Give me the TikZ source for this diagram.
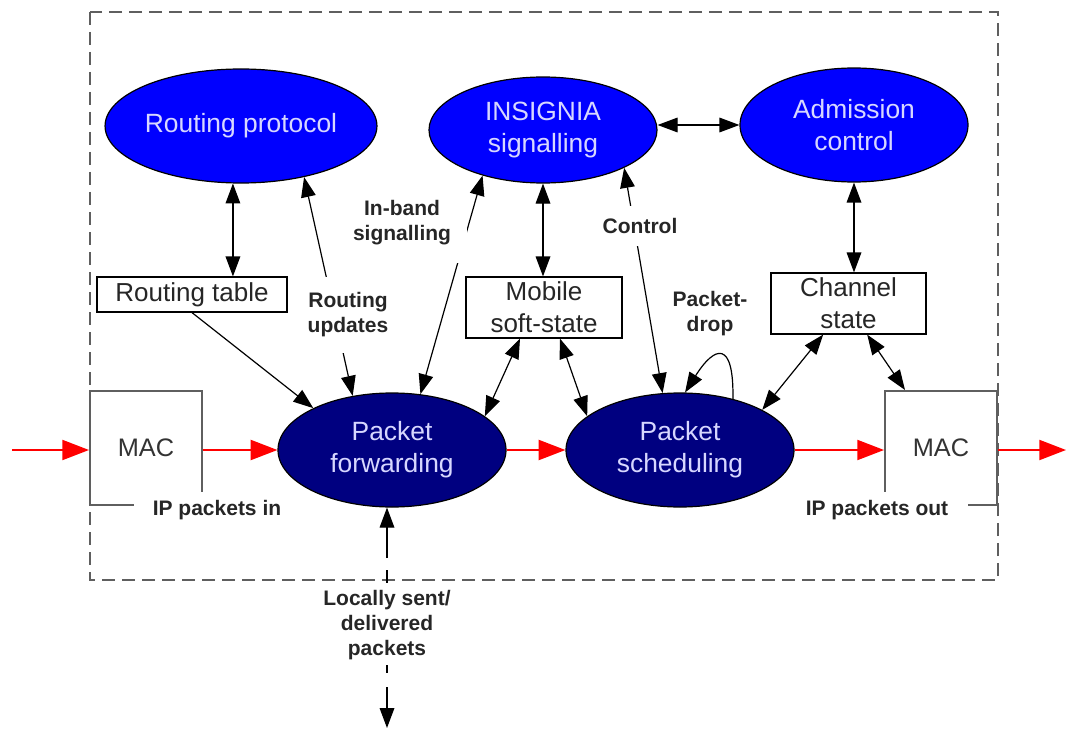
\documentclass[tikz,border=0pt]{standalone}
\usepackage{fontspec}
\setmainfont{Liberation Sans}
\usetikzlibrary{arrows.meta,shapes.geometric}
\definecolor{topblue}{RGB}{0,0,255}
\definecolor{deepnavy}{RGB}{0,0,128}
\definecolor{paletext}{RGB}{215,215,255}
\definecolor{framegray}{RGB}{95,95,95}
\definecolor{flowred}{RGB}{255,0,0}

\begin{document}
\begin{tikzpicture}[x=0.75pt,y=-0.75pt,
  ellbase/.style={ellipse, draw=black, line width=0.9pt, inner sep=0pt,
    minimum width=171pt, minimum height=85.5pt, align=center,
    text=paletext, font=\fontsize{19.8}{24}\selectfont},
  upper/.style={ellbase, fill=topblue},
  lower/.style={ellbase, fill=deepnavy},
  statebox/.style={draw=black, line width=0.9pt, fill=white, inner sep=0pt,
    align=center, text=black!85, font=\fontsize{19.5}{24}\selectfont},
  macbox/.style={draw=framegray, line width=1.5pt, inner sep=0pt,
    minimum width=84pt, minimum height=85.5pt, text=black!80,
    font=\fontsize{19}{23}\selectfont},
  tag/.style={font=\bfseries\fontsize{15.75}{18.75}\selectfont, align=center,
    inner sep=0pt, text=black!85},
  cover/.style={tag, fill=white},
  conn/.style={line width=0.9pt, black},
  tip/.style={-{Triangle[length=15pt,width=11pt]}},
  both/.style={{Triangle[length=15pt,width=11pt]}-{Triangle[length=15pt,width=11pt]}},
  flow/.style={line width=1.5pt, flowred, -{Triangle[length=20pt,width=15pt]}},
]
\useasboundingbox (0,0) rectangle (1067,731);

% node boundary
\draw[framegray, line width=1.8pt, dash pattern=on 10pt off 5pt] (90,12) rectangle (998,580);

% functional blocks
\node[upper] (RP) at (241,126) {Routing protocol};
\node[upper, minimum height=79.5pt] (INS) at (543,130) {INSIGNIA\\signalling};
\node[upper] (AC) at (854,125) {Admission\\control};
\node[lower] (PF) at (392,450) {Packet\\forwarding};
\node[lower] (PS) at (680,450) {Packet\\scheduling};

% state tables
\node[statebox, minimum width=142.5pt, minimum height=26.25pt] (RT) at (192,294.5) {Routing table};
\node[statebox, minimum width=117pt, minimum height=45.75pt] (MSS) at (544,307.5) {Mobile\\soft-state};
\node[statebox, minimum width=116.25pt, minimum height=45.75pt] (CS) at (848.5,303.5) {Channel\\state};

% link layer
\node[macbox] (MACL) at (146,448) {MAC};
\node[macbox] (MACR) at (941,448) {MAC};

% packet flow
\coordinate (inL) at (12,450);
\coordinate (outR) at (1066,450);
\draw[flow] (inL) -- (inL -| MACL.west);
\draw[flow] (MACL.east |- PF.west) -- (PF.west);
\draw[flow] (PF.east) -- (PS.west);
\draw[flow] (PS.east) -- (PS.east -| MACR.west);
\draw[flow] (PS.east -| MACR.east) -- (outR);

% control interactions
\draw[conn,both] (RP.-98) -- (RP.-98 |- RT.north);
\draw[conn,tip] (RT.south) -- (PF.152);
\draw[conn,both] (PF.126) -- (RP.-39);
\draw[conn,both] (PF.63) -- (INS.-143);
\draw[conn,both] (INS.-25) -- (PS.107);
\draw[conn,both] (INS.south) -- (INS.south |- MSS.north);
\draw[conn,both] ([xshift=-18pt]MSS.south) -- (PF.20);
\draw[conn,both] ([xshift=12pt]MSS.south) -- (PS.160);
\draw[conn,both] (AC.south) -- (AC.south |- CS.north);
\draw[conn,both] ([xshift=-19pt]CS.south) -- (PS.26);
\draw[conn,both] ([xshift=14pt]CS.south) -- ([xshift=-27pt]MACR.north);
\draw[conn,both] (AC.west -| INS.east) -- (AC.west);
\draw[conn,tip] (PS.44) .. controls (734,340) and (715,345) .. (PS.85);

% local traffic
\coordinate (ls1) at (387,558);
\coordinate (ls2) at (387,570);
\coordinate (ls3) at (387,583);
\coordinate (ls4) at (387,665);
\coordinate (ls5) at (387,673);
\coordinate (ls6) at (387,687);
\coordinate (lsEnd) at (387,728);
\draw[conn,tip] (ls1) -- (ls1 |- PF.south);
\draw[conn] (ls2) -- (ls3);
\draw[conn] (ls4) -- (ls5);
\draw[conn,tip] (ls6) -- (lsEnd);

% labels
\node[cover, minimum width=125pt, minimum height=27pt] (ipin) at (217,510) {IP packets in};
\node[cover, minimum width=136.5pt, minimum height=27pt] (ipout) at (877,510) {IP packets out};
\node[cover, minimum width=67.5pt, minimum height=57pt] (rupd) at (348,315) {Routing\\updates};
\node[cover, minimum width=97.5pt, minimum height=60pt] (inband) at (402,223) {In-band\\signalling};
\node[cover, minimum width=64pt, minimum height=30pt] (ctrl) at (640,226) {Control};
\node[tag] (pdrop) at (710,314) {Packet-\\drop};
\node[tag] (local) at (387,625) {Locally sent/\\delivered\\packets};
\end{tikzpicture}
\end{document}
